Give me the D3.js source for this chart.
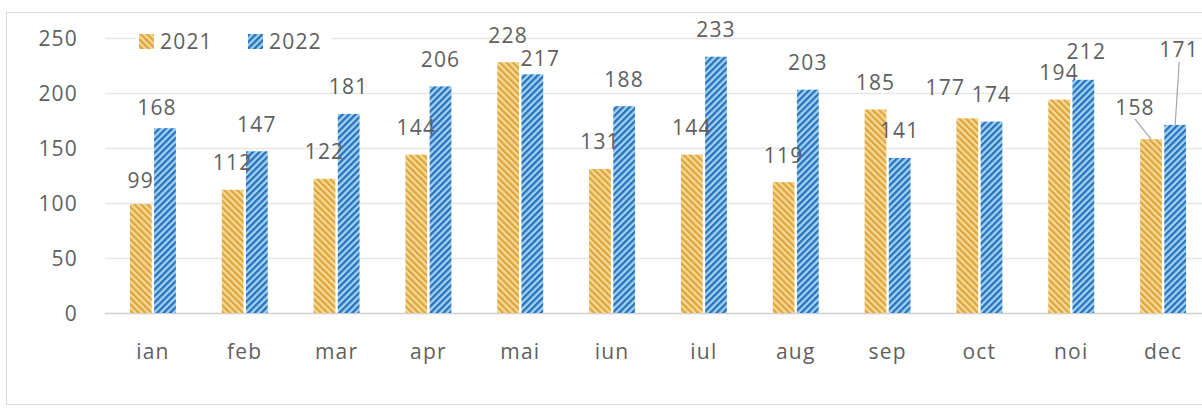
<!DOCTYPE html>
<html>
<head>
<meta charset="utf-8">
<script src="https://cdn.jsdelivr.net/npm/d3@7"></script>
<style>
  body { margin: 0; background: #fff; }
  text { font-family: "Open Sans", "Noto Sans", sans-serif; fill: #5f5f5f; }
</style>
</head>
<body>
<div id="container"></div>
<script>
// Data
const months = ["ian", "feb", "mar", "apr", "mai", "iun", "iul", "aug", "sep", "oct", "noi", "dec"];
const series = ["2021", "2022"];
const values2021 = [99, 112, 122, 144, 228, 131, 144, 119, 185, 177, 194, 158];
const values2022 = [168, 147, 181, 206, 217, 188, 233, 203, 141, 174, 212, 171];
const yTicks = [0, 50, 100, 150, 200, 250];

// labels that were dragged around in the original chart
const labelNudge = {
  "2022-ian": {dx: -8, dy: 6},
  "2021-ian": {dx: 0, dy: 3},
  "2022-mai": {dx: 8, dy: 11},
  "2021-oct": {dx: -22, dy: -4},
  "2022-noi": {dx: 3, dy: -1},
  "2021-dec": {dx: -16, dy: -5, leader: true},
  "2022-dec": {dx: 4, dy: -48, leader: true}
};

const width = 1202, height = 408;
const fontSize = 21;

const svg = d3.select("#container")
  .append("svg")
  .attr("width", width)
  .attr("height", height);

// hatch patterns
const defs = svg.append("defs");
function hatch(id, bg, fg, dir) {
  const s = 4.6;
  const p = defs.append("pattern")
    .attr("id", id)
    .attr("patternUnits", "userSpaceOnUse")
    .attr("width", s)
    .attr("height", s)
    .attr("patternTransform", `rotate(${dir})`);
  p.append("rect").attr("width", s).attr("height", s).attr("fill", bg);
  p.append("rect").attr("width", s * 0.5).attr("height", s).attr("fill", fg);
}
hatch("h2021", "#F6DA96", "#DEA53F", -45);
hatch("h2022", "#A3D2F2", "#2672BC", 45);

const colors = {"2021": "url(#h2021)", "2022": "url(#h2022)"};

// chart frame
svg.append("rect")
  .attr("x", 6.5).attr("y", 12.5)
  .attr("width", 1200).attr("height", 392)
  .attr("fill", "#fff")
  .attr("stroke", "#DCDCDC");

const x = d3.scaleBand()
  .domain(months)
  .range([107, 1209])
  .paddingInner(0.5)
  .paddingOuter(0.25);

const xs = d3.scaleBand()
  .domain(series)
  .range([0, x.bandwidth()])
  .paddingInner(0.1);

const y = d3.scaleLinear()
  .domain([0, 250])
  .range([313, 38]);

// grid
svg.append("g")
  .selectAll("line")
  .data(yTicks)
  .enter().append("line")
  .attr("x1", 105)
  .attr("x2", width)
  .attr("y1", d => Math.round(y(d)) + 0.5)
  .attr("y2", d => Math.round(y(d)) + 0.5)
  .attr("stroke", d => d === 0 ? "#D0D0D0" : "#E6E6E6")
  .attr("stroke-width", 1.3);

// y labels
svg.append("g")
  .selectAll("text")
  .data(yTicks)
  .enter().append("text")
  .attr("x", 78)
  .attr("y", d => y(d) + 7.5)
  .attr("text-anchor", "end")
  .style("font-size", fontSize + "px")
  .style("letter-spacing", "1.2px")
  .text(d => d);

// x labels
svg.append("g")
  .selectAll("text")
  .data(months)
  .enter().append("text")
  .attr("x", d => x(d) + x.bandwidth() / 2)
  .attr("y", 359)
  .attr("text-anchor", "middle")
  .style("font-size", fontSize + "px")
  .style("letter-spacing", "1.2px")
  .text(d => d);

const rows = [];
months.forEach((m, i) => {
  rows.push({month: m, series: "2021", value: values2021[i]});
  rows.push({month: m, series: "2022", value: values2022[i]});
});

// bars
svg.append("g")
  .selectAll("rect")
  .data(rows)
  .enter().append("rect")
  .attr("x", d => x(d.month) + xs(d.series))
  .attr("y", d => y(d.value))
  .attr("width", xs.bandwidth())
  .attr("height", d => y(0) - y(d.value))
  .attr("fill", d => colors[d.series]);

// data labels
const labels = rows.map(d => {
  const n = labelNudge[d.series + "-" + d.month] || {dx: 0, dy: 0};
  const cx = x(d.month) + xs(d.series) + xs.bandwidth() / 2;
  return {
    ...d,
    barX: cx,
    barTop: y(d.value),
    lx: cx + n.dx,
    ly: y(d.value) - 27 + n.dy,
    leader: !!n.leader
  };
});

svg.append("g")
  .selectAll("line")
  .data(labels.filter(d => d.leader))
  .enter().append("line")
  .attr("x1", d => d.lx)
  .attr("y1", d => d.ly + 12)
  .attr("x2", d => d.barX)
  .attr("y2", d => d.barTop)
  .attr("stroke", "#A6A6A6")
  .attr("stroke-width", 1.2);

svg.append("g")
  .selectAll("text")
  .data(labels)
  .enter().append("text")
  .attr("x", d => d.lx)
  .attr("y", d => d.ly + 7.5)
  .attr("text-anchor", "middle")
  .style("font-size", fontSize + "px")
  .style("letter-spacing", "1.2px")
  .text(d => d.value);

// legend
const legend = svg.append("g").attr("transform", "translate(136,28)");
legend.append("rect")
  .attr("width", 196).attr("height", 26)
  .attr("fill", "#fff");
const item = legend.selectAll("g.item")
  .data(series)
  .enter().append("g")
  .attr("class", "item")
  .attr("transform", (d, i) => `translate(${3 + i * 109},6)`);
item.append("rect")
  .attr("width", 15).attr("height", 15)
  .attr("fill", d => colors[d]);
item.append("text")
  .attr("x", 21)
  .attr("y", 15)
  .style("font-size", fontSize + "px")
  .style("letter-spacing", "1.2px")
  .text(d => d);
</script>
</body>
</html>
